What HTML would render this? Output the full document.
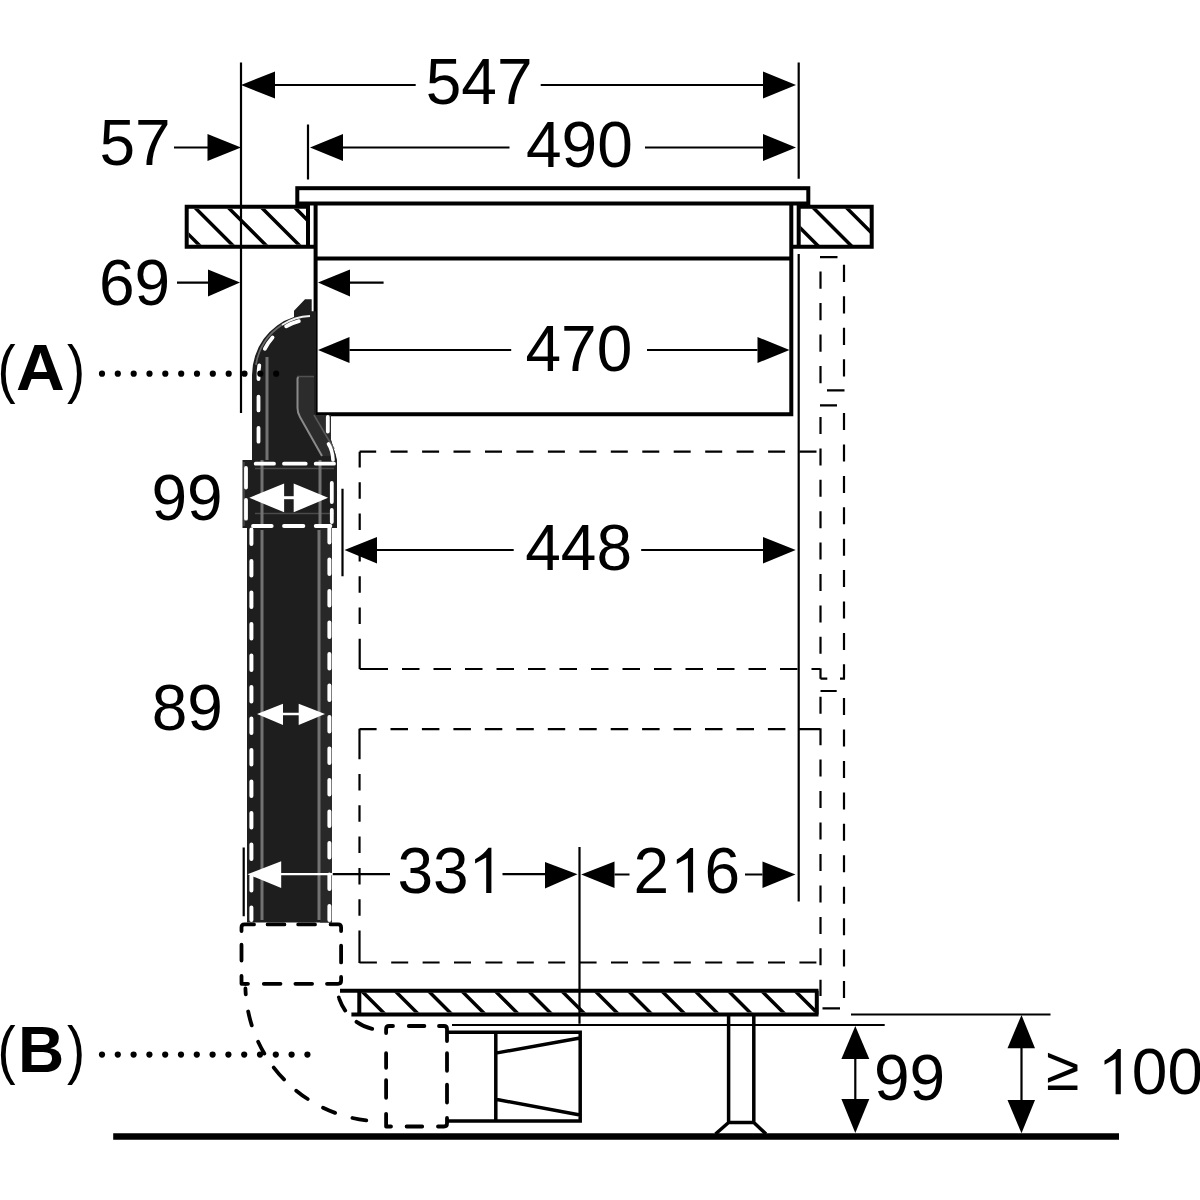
<!DOCTYPE html>
<html><head><meta charset="utf-8">
<style>
html,body{margin:0;padding:0;background:#fff;width:1200px;height:1200px;overflow:hidden}
svg{display:block}
text{font-family:"Liberation Sans",sans-serif;font-size:64px;fill:#000}
</style></head><body>
<svg width="1200" height="1200" viewBox="0 0 1200 1200">
<defs>
<clipPath id="cwl"><rect x="188.7" y="208.7" width="117.3" height="36"/></clipPath>
<clipPath id="cwr"><rect x="800.5" y="208.5" width="69.5" height="36.5"/></clipPath>
<clipPath id="cpl"><rect x="361" y="992.6" width="455" height="20"/></clipPath>
</defs>
<!-- extension lines -->
<g stroke="#000" stroke-width="2.2" fill="none">
<path d="M241 62.5V413M308 124.5V179.5M798.7 62.5V178.7M798.7 254V901.5M342.5 488.7V576.2M243.7 847.5V916.2M579.5 847V1023.7"/>
<path d="M275 85H415.7M540.7 85H763M343 147.5H509.5M645 147.5H763M174 147.5H208M177 282.6H208M350 282.6H383.6M349.5 350H511.2M647 350H757.5M377 550H513.7M641.2 550H763M332.5 874.2H390M502.5 874.2H545M614.5 874.5H629.5M745 874.5H762.5M855.3 1059V1099M1021.5 1048V1100M851 1014.5H1050.5M452 1025H884.7"/>
</g>
<!-- arrowheads -->
<g fill="#000">
<polygon points="241,85 275,71.5 275,98.5"/>
<polygon points="796,85 763,71.5 763,98.5"/>
<polygon points="310,147.5 343,134 343,161"/>
<polygon points="796,147.5 763,134 763,161"/>
<polygon points="241,147.5 207.5,134 207.5,161"/>
<polygon points="240,282.6 208,269.4 208,296.4"/>
<polygon points="318,282.6 350,269.4 350,296.4"/>
<polygon points="318,350 349.5,337 349.5,363"/>
<polygon points="789.5,350 757.5,337 757.5,363"/>
<polygon points="344.5,550 377,537 377,563.5"/>
<polygon points="795.7,550 763,537 763,563.5"/>
<polygon points="577.5,874.2 545,862 545,888.5"/>
<polygon points="581.2,874.5 614.5,861.5 614.5,888"/>
<polygon points="795.5,874.5 762.5,861.5 762.5,888"/>
<polygon points="855.3,1026 841.4,1059 869.3,1059"/>
<polygon points="855.3,1133 841.4,1099 869.3,1099"/>
<polygon points="1021.5,1015 1007.5,1048.3 1035,1048.3"/>
<polygon points="1021.5,1133.3 1007.5,1100 1035,1100"/>
</g>
<!-- worktops -->
<g stroke="#000" stroke-width="4" fill="none">
<path d="M186.7 206.7H308V246.7H186.7ZM308 246.7H315"/>
<path d="M798.7 206.7H871.7V246.7H798.7ZM793 246.7H798.7"/>
</g>
<g stroke="#000" stroke-width="3.5" clip-path="url(#cwl)">
<path d="M120.7 100L320.7 300M154 100L354 300M187.3 100L387.3 300M220.6 100L420.6 300M253.9 100L453.9 300M287.2 100L487.2 300M87.4 100L287.4 300M54.1 100L254.1 300"/>
</g>
<g stroke="#000" stroke-width="3.5" clip-path="url(#cwr)">
<path d="M705.5 100L905.5 300M738.8 100L938.8 300M772.1 100L972.1 300M672.2 100L872.2 300M638.9 100L838.9 300"/>
</g>
<!-- cooktop -->
<g stroke="#000" stroke-width="4" fill="none">
<rect x="297.3" y="188.2" width="511" height="15.3"/>
<path d="M315.6 205V414.3H791.3V205M315.6 258.6H791.3"/>
</g>
<!-- dashed cabinet outlines -->
<path d="M359.6 451.7H376.2M390.6 451.7H407.6M422.1 451.7H439.1M453.5 451.7H470.5M485.0 451.7H502.0M516.4 451.7H533.4M547.9 451.7H564.9M579.4 451.7H596.4M610.8 451.7H627.8M642.3 451.7H659.3M673.7 451.7H690.7M705.2 451.7H722.2M736.6 451.7H753.6M768.1 451.7H785.1M799.5 451.7H816.5M359.7 451.7V467.5M359.7 482.3V498.8M359.7 513.6V530.1M359.7 544.9V561.4M359.7 576.2V592.7M359.7 607.5V624.0M359.7 638.8V655.3M359.7 639V669M370.5 669H388.0M402.0 669H419.5M433.5 669H451.0M465.0 669H482.5M496.5 669H514.0M528.0 669H545.5M559.5 669H577.0M591.0 669H608.5M622.5 669H640.0M654.0 669H671.5M685.5 669H703.0M717.0 669H734.5M748.5 669H766.0M780.0 669H797.5M811.5 669H820.0M359.7 669H388M359.5 729.2H376.6M390.5 729.2H408.0M421.9 729.2H439.4M453.4 729.2H470.9M484.8 729.2H502.3M516.3 729.2H533.8M547.8 729.2H565.2M579.2 729.2H596.7M610.7 729.2H628.2M642.1 729.2H659.6M673.6 729.2H691.1M705.0 729.2H722.5M736.5 729.2H754.0M767.9 729.2H785.4M799.4 729.2H816.9M359.5 729.2H376M798.7 729.2H820M359.5 742.7V759.2M359.5 774.0V790.5M359.5 805.3V821.8M359.5 836.6V853.1M359.5 867.9V884.4M359.5 899.2V915.7M359.5 930.5V947.0M359.5 961.8V963.0M359.5 728.7V759M359.5 931.3V963M359.9 962.5H376.9M391.2 962.5H408.2M422.6 962.5H439.6M454.0 962.5H471.0M485.4 962.5H502.4M516.8 962.5H533.8M548.2 962.5H565.2M579.6 962.5H596.6M611.0 962.5H628.0M642.4 962.5H659.4M673.8 962.5H690.8M705.2 962.5H722.2M736.6 962.5H753.6M768.0 962.5H785.0M799.4 962.5H816.4M359.5 962.5H375.7M820 257.2H837.5M820.5 271.5V288.7M820.5 303.0V320.2M820.5 334.5V351.7M820.5 366.0V383.2M844 264.7V281.9M844 296.2V313.4M844 327.7V344.9M844 359.2V376.4M827 390.4H844.5M820 405.3H837M820.5 417.0V434.0M820.5 448.4V465.4M820.5 479.8V496.8M820.5 511.2V528.2M820.5 542.6V559.6M820.5 574.0V591.0M820.5 605.4V622.4M820.5 636.8V653.8M820.5 668.2V678.7M844 413.1V430.1M844 444.5V461.5M844 475.9V492.9M844 507.3V524.3M844 538.7V555.7M844 570.1V587.1M844 601.5V618.5M844 632.9V649.9M844 664.3V678.7M820.5 678.7H827.3M840 678.7H845M820.5 691H836.7M820.5 696.7V713.7M820.5 728.2V745.2M820.5 759.6V776.6M820.5 791.1V808.1M820.5 822.5V839.5M820.5 854.0V871.0M820.5 885.4V902.4M820.5 916.9V933.9M820.5 948.3V965.3M820.5 979.8V996.0M844 698.0V715.0M844 729.5V746.5M844 760.9V777.9M844 792.4V809.4M844 823.8V840.8M844 855.3V872.3M844 886.7V903.7M844 918.2V935.2M844 949.6V966.6M844 981.1V998.0M822.5 1008.3H840" stroke="#000" stroke-width="2.2" fill="none"/>
<!-- plinth -->
<g stroke="#000" stroke-width="4" fill="none">
<path d="M340 990.7H818.5M351.4 1014.6H818.5M816.8 990.7V1014.6M359.3 990.7V1014.6"/>
</g>
<g stroke="#000" stroke-width="3.5" clip-path="url(#cpl)">
<path id="ph" d="M287.5 950L367.5 1030M320.8 950L400.8 1030M354.2 950L434.2 1030M387.5 950L467.5 1030M420.8 950L500.8 1030M454.2 950L534.2 1030M487.5 950L567.5 1030M520.8 950L600.8 1030M554.2 950L634.2 1030M587.5 950L667.5 1030M620.8 950L700.8 1030M654.2 950L734.2 1030M687.5 950L767.5 1030M720.8 950L800.8 1030M754.2 950L834.2 1030M787.5 950L867.5 1030M820.8 950L900.8 1030"/>
</g>
<!-- foot -->
<g stroke="#000" stroke-width="3.5" fill="none">
<path d="M728.6 1015V1122.5H753.8V1015M728.6 1122.5L715.5 1134M753.8 1122.5L766 1134"/>
</g>
<!-- floor -->
<path d="M113.2 1136.6H1119" stroke="#000" stroke-width="6.5"/>
<!-- outlet -->
<g stroke="#000" stroke-width="3.5" fill="none">
<path d="M447 1032.2H580.2V1121H447M495.8 1032.2V1121M495.8 1053.1L580 1038M495.8 1099.3L580 1115"/>
</g>
<!-- thick dashed connector & elbow -->
<g stroke="#000" stroke-width="3.8" fill="none" stroke-linecap="round" stroke-linejoin="round">
<path d="M241.5 931V927.4Q241.5 924.4 244.5 924.4H254M267.6 924.4H284.4M298.2 924.4H315.0M330.6 924.4H338.1Q341.1 924.4 341.1 927.4V931M241.5 944.7V960.5M241.5 976V983.8H248M341.1 945.7V962.4M341.1 977V980.8Q341.1 983.8 338.1 983.8H327M263.8 983.8H280.5M295.4 983.8H312.1M386.1 1033V1029Q386.1 1026 389.1 1026H393M408.8 1026H424.4M439 1026H444Q447 1026 447 1029V1041M386.1 1053.2V1067.8M386.1 1080.2V1097.8M386.1 1113.8V1126.5H391M406.6 1126.5H422.2M438 1126.5H444Q447 1126.5 447 1123.5V1118M447 1053.2V1070.8M447 1084.7V1102.6"/>
<path d="M245.35 983.8A137.65 137.65 0 0 0 383 1121.45" stroke-dasharray="0 4.7 5.9 17.3 14.3 17.6 13.3 16.9 15.7 16.6 14.2 17.6 13.1 18.1 14 100"/>
<path d="M338.8 997.35A46.2 46.2 0 0 0 373.8 1029.3" stroke-dasharray="0 1.9 12.8 16 17.2 100"/>
</g>
<!-- pipe -->
<g>
<path d="M252 460L252 375A59 61 0 0 1 294 317L294 310.7L305 299.3L311.7 299.3L311.7 311.3L316 311.3L316 415L331 415L331 440L336 456L337 460L337 528L332 528L332 922.5L247 922.5L247 528L242.5 528L242.5 460Z" fill="#1e1e1e"/>
<rect x="320" y="528" width="12" height="394.5" fill="#282828"/>
<path d="M297.5 377L314 377L314 415L331 415L331 440L336 456L322 456L297.5 411Z" fill="#2c2c2c"/>
<path d="M297.5 379Q297.5 377 299 377M297.5 379V408Q297.5 413 300 417L322 456" stroke="#8a8a8a" stroke-width="2" fill="none"/>
<path d="M314 415L334 449" stroke="#5a5a5a" stroke-width="1.5" fill="none"/>
<path d="M297 376.5H314" stroke="#505050" stroke-width="1.5" fill="none"/>
<path d="M255 468.5H334M255 513.5H334M244 462V526" stroke="#4a4a4a" stroke-width="1.5" fill="none"/>
<g stroke="#727272" stroke-width="3" fill="none">
<path d="M262 530V920M319 530V920M267 357V460M320 460V528M262 460V528"/>
</g>
<path d="M310.0 316.0A57 59 0 0 0 281.8 325.0" stroke="#f0f0f0" stroke-width="1.8" fill="none"/><path d="M281.8 325.0A57 59 0 0 0 255.9 364.8" stroke="#6a6a6a" stroke-width="1.6" fill="none"/>
<g stroke="#fff" stroke-width="4" fill="none" stroke-dasharray="14.6 16.9" stroke-linecap="round">
<path d="M251.4 529.5V920M329.4 527.9V920"/>
</g>
<g stroke="#fff" stroke-width="3.8" fill="none" stroke-dasharray="13.7 17.6" stroke-dashoffset="-4" stroke-linecap="round">
<path d="M302.7 320.3A53.5 55.5 0 0 0 258.5 375V452"/>
</g>
<g stroke="#fff" stroke-width="3.8" fill="none" stroke-linecap="round">
<path d="M255.7 463.7H274M284 463.7H305.7M315.7 463.7H334M253 526H271.7M284 526H303.4M315.7 526H330.4"/>
<path d="M246 468V487.6M246 500V518.7M331.8 483V502M331.8 510V522M327.8 417V431.5"/>
</g>
<path d="M328.5 444Q332.5 450 333 460" stroke="#fff" stroke-width="3.6" fill="none" stroke-linecap="round"/>
<polygon points="249.3,497.7 284.1,483.5 284.1,512.3" fill="#fff"/>
<polygon points="328.1,497.7 293.7,483.5 293.7,512.3" fill="#fff"/>
<path d="M284 497.7H294" stroke="#fff" stroke-width="3"/>
<polygon points="257,714 283,703.7 283,725" fill="#fff"/>
<polygon points="325,714 298.7,703.7 298.7,725" fill="#fff"/>
<path d="M283 714H299" stroke="#fff" stroke-width="2.5"/>
<polygon points="247.5,874.2 281.2,861.2 281.2,888" fill="#fff"/>
<path d="M281 874.2H332.5" stroke="#fff" stroke-width="2.2"/>
</g>
<!-- dots -->
<g fill="#000">
<circle cx="102" cy="373.7" r="3.1"/><circle cx="117.8" cy="373.7" r="3.1"/><circle cx="133.7" cy="373.7" r="3.1"/><circle cx="149.5" cy="373.7" r="3.1"/><circle cx="165.3" cy="373.7" r="3.1"/><circle cx="181.2" cy="373.7" r="3.1"/><circle cx="197" cy="373.7" r="3.1"/><circle cx="212.8" cy="373.7" r="3.1"/><circle cx="228.7" cy="373.7" r="3.1"/><circle cx="244.5" cy="373.7" r="3.1"/><circle cx="260.3" cy="373.7" r="3.1"/><circle cx="276.2" cy="373.7" r="3.1"/>
<circle cx="102" cy="1054.6" r="3.1"/><circle cx="117.8" cy="1054.6" r="3.1"/><circle cx="133.6" cy="1054.6" r="3.1"/><circle cx="149.4" cy="1054.6" r="3.1"/><circle cx="165.2" cy="1054.6" r="3.1"/><circle cx="181" cy="1054.6" r="3.1"/><circle cx="196.8" cy="1054.6" r="3.1"/><circle cx="212.6" cy="1054.6" r="3.1"/><circle cx="228.4" cy="1054.6" r="3.1"/><circle cx="244.2" cy="1054.6" r="3.1"/><circle cx="260" cy="1054.6" r="3.1"/><circle cx="275.8" cy="1054.6" r="3.1"/><circle cx="291.6" cy="1054.6" r="3.1"/><circle cx="307.4" cy="1054.6" r="3.1"/>
</g>
<!-- texts -->
<text x="425.7" y="104.0">547</text>
<text x="526" y="167.0">490</text>
<text x="99.5" y="164.5">57</text>
<text x="99" y="305.3">69</text>
<text x="525.5" y="370.7">470</text>
<text x="525.2" y="569.8">448</text>
<text x="151.4" y="519.8">99</text>
<text x="151.7" y="729.5">89</text>
<text x="397.5" y="893.1">33</text>
<text x="633.5" y="893.4">2</text>
<text x="704.5" y="893.4">6</text>
<text x="873.9" y="1100.3">99</text>
<text transform="translate(1046 1089.5) scale(0.95 0.97)">≥</text>
<text x="1131.8" y="1094.1">00</text>
<path d="M491.4 847.8V892.9H486.2V857.6L475.1 863.6V859.2Q483.4 854.8 488.4 847.8ZM693.1 848.1V892.6H687.9V857.9L676.8 863.9V859.5Q685.1 855.1 690.1 848.1ZM1120.8 1049V1094.2H1115.6V1058.8L1104.5 1064.8V1060.4Q1112.8 1056.0 1117.8 1049Z" fill="#000"/>
<text transform="translate(-2.4 391) scale(0.85 1)">(</text>
<text transform="translate(16 390) scale(1.055 1)" font-weight="bold">A</text>
<text transform="translate(67 391) scale(0.85 1)">)</text>
<text transform="translate(-2.4 1071.8) scale(0.85 1)">(</text>
<text x="18" y="1071.6" font-weight="bold">B</text>
<text transform="translate(67 1071.8) scale(0.85 1)">)</text>
</svg>
</body></html>
